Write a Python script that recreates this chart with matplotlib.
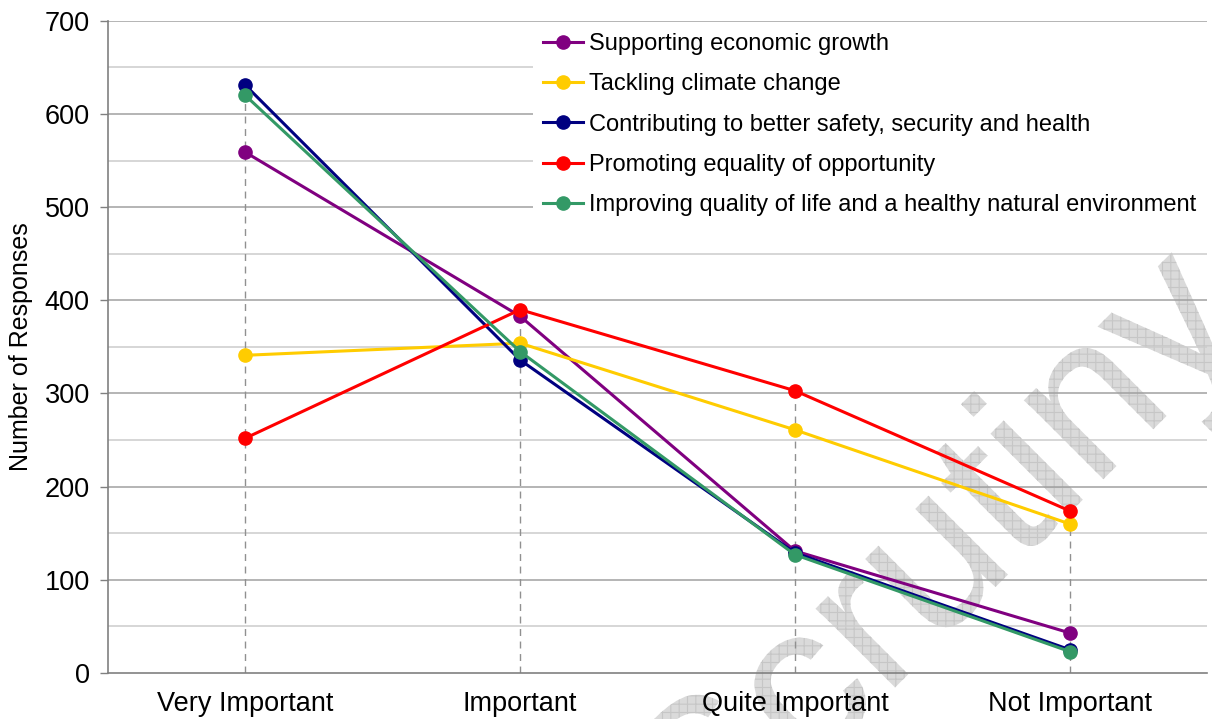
import numpy as np
import matplotlib.pyplot as plt
from matplotlib.ticker import MultipleLocator
from matplotlib.textpath import TextPath
from matplotlib.font_manager import FontProperties
from matplotlib.patches import PathPatch
from matplotlib.transforms import Affine2D, IdentityTransform

plt.rcParams['font.family'] = ['Liberation Sans', 'DejaVu Sans']
plt.rcParams['hatch.linewidth'] = 0.8

# Survey responses per importance level
categories = ['Very Important', 'Important', 'Quite Important', 'Not Important']
series_names = [
    'Supporting economic growth',
    'Tackling climate change',
    'Contributing to better safety, security and health',
    'Promoting equality of opportunity',
    'Improving quality of life and a healthy natural environment',
]
economic_growth = [559, 383, 131, 43]
climate_change = [341, 354, 261, 160]
safety_health = [631, 336, 129, 25]
equality = [252, 390, 303, 174]
quality_of_life = [620, 345, 127, 23]

series_values = [economic_growth, climate_change, safety_health, equality, quality_of_life]
colors = ['#800080', '#FFCC00', '#000080', '#FF0000', '#339966']

y_major = np.arange(100, 701, 100)
y_minor = np.arange(50, 701, 100)

fig = plt.figure(figsize=(12.12, 7.19), dpi=100)
ax = fig.add_axes([0.089, 0.064, 0.907, 0.907])

x = np.arange(len(categories))

# horizontal grid drawn by hand so it sits just above the watermark
for v in y_minor:
    ax.axhline(v, color='#cccccc', linewidth=1.1, zorder=1.2)
for v in y_major:
    ax.axhline(v, color='#a0a0a0', linewidth=1.1, zorder=1.2)

# drop lines from the highest point of each category down to the axis
tops = np.max(np.array(series_values), axis=0)
ax.vlines(x, 0, tops, colors='#909090', linestyles=(0, (5, 4)), linewidth=1, zorder=2)

for name, vals, c in zip(series_names, series_values, colors):
    ax.plot(x, vals, color=c, linewidth=2.2, marker='o', markersize=9.5,
            label=name, zorder=3)

ax.set_xlim(-0.5, len(categories) - 0.5)
ax.set_ylim(0, 700)
ax.yaxis.set_major_locator(MultipleLocator(100))
ax.set_axisbelow(False)

ax.set_xticks(x)
ax.set_xticklabels(categories, fontsize=19.5)
ax.tick_params(axis='x', length=0, pad=13)
ax.tick_params(axis='y', which='major', labelsize=19.5, length=6, width=1, color='#808080', pad=7)
ax.set_ylabel('Number of Responses', fontsize=18, labelpad=8)

for side in ['top', 'right']:
    ax.spines[side].set_visible(False)
for side in ['left', 'bottom']:
    ax.spines[side].set_color('#808080')
    ax.spines[side].set_linewidth(1.2)

leg = ax.legend(loc='upper right', bbox_to_anchor=(1.0, 0.998), fontsize=17,
                frameon=True, fancybox=False, handlelength=1.7, handletextpad=0.25,
                labelspacing=0.78, borderpad=0.45, borderaxespad=0.0)
leg.get_frame().set_facecolor('white')
leg.get_frame().set_edgecolor('none')
leg.get_frame().set_alpha(1.0)
leg.set_zorder(5)

# diagonal hatched watermark text
fp = FontProperties(family='Liberation Sans')
tp = TextPath((0, 0), 'Scrutiny', size=212, prop=fp)
bb = tp.get_extents()
cx, cy = (bb.x0 + bb.x1) / 2, (bb.y0 + bb.y1) / 2
tr = Affine2D().translate(-cx, -cy).rotate_deg(45).translate(945, 719 - 560)
wm = PathPatch(tr.transform_path(tp), transform=IdentityTransform(),
               facecolor='#dadada', edgecolor='#c6c6c6', linewidth=0,
               hatch='++', zorder=1, clip_on=False)
ax.add_artist(wm)

fig.savefig('out.png', dpi=100)
